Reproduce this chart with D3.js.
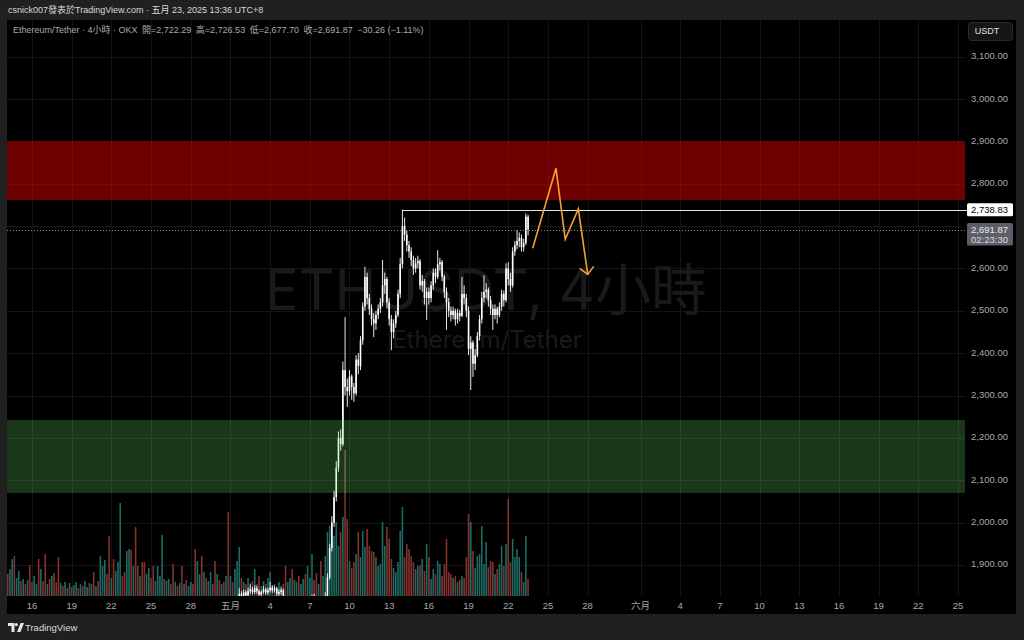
<!DOCTYPE html>
<html><head><meta charset="utf-8">
<script src="https://cdn.jsdelivr.net/npm/d3@7"></script>
<style>
html,body{margin:0;padding:0;background:#202020;}
svg{display:block;}
text{font-family:"Liberation Sans","Noto Sans CJK TC",sans-serif;}
text.wm{font-family:Inter,"Noto Sans CJK TC",sans-serif;}
</style></head><body>
<svg id="c" width="1024" height="640"></svg>
<script>
// ---------- DATA ----------
const startTime = "2025-04-14 00:00";
const barHours = 4;
const firstOpen = 1620;
const closes = [
1632,1625,1638,1645,1628,1634,1640,1630,1636,1620,
1626,1600,1592,1600,1608,1585,1592,1586,1570,1576,
1572,1580,1575,1570,1565,1578,1574,1582,1579,1585,
1582,1588,1594,1590,1596,1592,1598,1603,1596,1600,
1582,1587,1580,1610,1625,1640,1630,1580,1592,1585,
1600,1620,1720,1705,1700,1740,1775,1760,1790,1760,
1750,1765,1752,1735,1748,1760,1750,1738,1746,1758,
1768,1790,1782,1788,1795,1790,1775,1782,1778,1785,
1772,1778,1770,1776,1784,1780,1755,1775,1790,1775,
1790,1782,1788,1800,1795,1780,1792,1786,1792,1785,
1792,1760,1775,1770,1790,1810,1832,1825,1835,1828,
1838,1842,1836,1845,1838,1830,1836,1842,1835,1840,
1846,1840,1844,1832,1836,1840,1820,1805,1810,1815,
1800,1806,1812,1795,1800,1808,1790,1805,1812,1822,
1818,1810,1816,1808,1815,1825,1870,1940,2000,2060,
2130,2200,2185,2360,2320,2310,2345,2320,2305,2385,
2370,2430,2510,2580,2530,2505,2480,2470,2490,2505,
2520,2560,2575,2520,2480,2450,2470,2490,2540,2610,
2700,2680,2655,2640,2620,2600,2612,2618,2560,2570,
2530,2545,2530,2560,2590,2580,2610,2615,2580,2545,
2520,2500,2490,2500,2480,2495,2488,2540,2530,2500,
2410,2425,2375,2395,2440,2480,2530,2545,2550,2525,
2505,2490,2505,2490,2510,2540,2525,2600,2575,2560,
2640,2655,2665,2672,2650,2660,2722.29,2691.87];
const highs = [
1640,1638,1644,1652,1650,1640,1646,1644,1642,1638,
1632,1628,1606,1605,1614,1610,1598,1596,1590,1582,
1580,1586,1584,1578,1576,1582,1580,1586,1584,1589,
1588,1592,1598,1596,1600,1598,1602,1608,1605,1604,
1602,1590,1590,1615,1630,1650,1645,1632,1598,1596,
1606,1626,1730,1728,1712,1748,1782,1790,1810,1795,
1768,1772,1770,1756,1752,1765,1764,1755,1750,1762,
1772,1800,1795,1794,1805,1800,1794,1788,1786,1790,
1792,1782,1780,1780,1790,1788,1784,1780,1796,1800,
1795,1794,1792,1810,1806,1798,1796,1795,1796,1795,
1800,1795,1780,1780,1796,1818,1845,1838,1842,1840,
1846,1856,1848,1852,1850,1842,1840,1850,1846,1846,
1860,1852,1850,1848,1842,1846,1844,1822,1815,1820,
1818,1812,1818,1815,1806,1814,1812,1810,1818,1830,
1832,1825,1822,1820,1822,1835,1880,1950,2015,2075,
2145,2215,2220,2380,2485,2340,2360,2350,2330,2395,
2400,2440,2520,2604,2590,2540,2515,2495,2500,2515,
2530,2620,2590,2580,2530,2490,2480,2500,2550,2625,
2738.83,2720,2690,2665,2650,2630,2625,2630,2622,2585,
2575,2555,2555,2570,2600,2600,2643,2625,2620,2585,
2555,2530,2510,2510,2505,2505,2502,2580,2560,2540,
2510,2440,2430,2410,2450,2490,2545,2584,2565,2555,
2535,2515,2515,2510,2520,2550,2548,2612,2615,2590,
2650,2665,2691,2685,2680,2670,2730,2726.53];
const lows = [
1612,1618,1620,1632,1622,1624,1630,1625,1626,1614,
1615,1594,1586,1588,1596,1578,1580,1580,1562,1566,
1566,1568,1570,1564,1556,1562,1570,1572,1575,1576,
1578,1580,1585,1586,1588,1588,1590,1595,1592,1594,
1575,1578,1574,1578,1606,1620,1624,1565,1574,1578,
1582,1596,1615,1695,1690,1696,1735,1752,1755,1750,
1740,1745,1745,1725,1730,1742,1744,1730,1732,1740,
1752,1762,1776,1778,1784,1784,1768,1770,1772,1774,
1765,1768,1764,1766,1772,1775,1745,1750,1770,1768,
1770,1776,1778,1784,1790,1772,1776,1780,1782,1780,
1782,1752,1755,1764,1766,1786,1806,1818,1820,1822,
1824,1832,1830,1832,1832,1822,1826,1832,1830,1830,
1835,1834,1835,1826,1826,1830,1812,1798,1800,1805,
1790,1796,1802,1785,1790,1796,1782,1786,1800,1808,
1812,1804,1806,1800,1804,1810,1820,1865,1932,1990,
2050,2120,2170,2180,2300,2273,2300,2290,2285,2300,
2350,2360,2420,2500,2515,2490,2465,2438,2455,2480,
2495,2510,2540,2505,2465,2407,2435,2460,2485,2530,
2600,2665,2640,2625,2605,2585,2590,2600,2550,2545,
2515,2478,2515,2520,2550,2565,2575,2595,2570,2530,
2455,2485,2475,2480,2465,2470,2475,2485,2515,2485,
2395,2313,2344,2360,2390,2430,2470,2520,2530,2510,
2490,2455,2480,2470,2485,2500,2510,2520,2560,2545,
2555,2630,2645,2650,2640,2640,2655,2677.70];
const volumes = [
30,22,27,37,40,18,25,15,17,12,
16,31,14,20,12,37,27,15,42,12,
17,20,23,14,39,13,10,14,8,13,
9,11,14,8,12,10,15,9,13,12,
24,10,15,40,30,36,22,60,18,37,
25,34,93,20,24,45,47,46,30,69,
30,20,34,34,22,28,18,30,15,30,
20,61,17,15,17,12,32,14,10,13,
30,12,16,10,14,12,47,35,22,40,
24,18,15,24,12,35,22,16,12,14,
20,84,20,14,27,35,49,18,14,12,
18,10,15,27,12,20,10,15,12,18,
24,10,12,9,14,10,12,30,14,18,
27,16,14,20,12,17,22,30,18,42,
16,23,12,35,20,40,64,70,55,60,
74,50,64,79,146,77,35,28,34,42,
64,39,65,49,67,50,45,44,39,30,
32,74,50,69,57,37,28,24,34,65,
89,39,52,47,40,34,27,30,31,37,
25,52,39,17,27,22,35,32,20,32,
57,24,22,18,20,14,16,20,18,39,
82,74,45,28,40,42,70,32,54,29,
35,34,22,27,32,50,30,52,97,34,
57,39,47,39,24,14,60,17];

const priceTicks = [1900,2000,2100,2200,2300,2400,2500,2600,2700,2800,2900,3000,3100];
const timeTickDates = ["2025-04-16","2025-04-19","2025-04-22","2025-04-25","2025-04-28","2025-05-01","2025-05-04","2025-05-07","2025-05-10","2025-05-13","2025-05-16","2025-05-19","2025-05-22","2025-05-25","2025-05-28","2025-06-01","2025-06-04","2025-06-07","2025-06-10","2025-06-13","2025-06-16","2025-06-19","2025-06-22","2025-06-25"];
const timeTickLabels = ["16","19","22","25","28","五月","4","7","10","13","16","19","22","25","28","六月","4","7","10","13","16","19","22","25"];

const resistanceZone = [2761.5, 2900];
const supportZone = [2070, 2242];
const highLinePrice = 2738.83;
const highLineStart = "2025-05-14 00:00";
const lastPrice = 2691.87;
const countdown = "02:23:30";
const arrowTimes = ["2025-05-23 20:24","2025-05-25 14:40","2025-05-26 07:26","2025-05-27 07:12","2025-05-28 00:14"];
const arrowPrices = [2647.5, 2836.4, 2668.7, 2740.3, 2586];

const headerText = "csnick007發表於TradingView.com · 五月 23, 2025 13:36 UTC+8";
const legendParts = ["Ethereum/Tether · 4小時 · OKX", "開=2,722.29", "高=2,726.53", "低=2,677.70", "收=2,691.87", "−30.26 (−1.11%)"];
const watermark = "ETHUSDT, 4小時";
const watermarkSub = "Ethereum/Tether";
const currencyLabel = "USDT";

// ---------- LAYOUT ----------
const P = {left:7, right:965, top:20, bottom:596};
const panel = {left:7, right:1016, top:20, bottom:614};
const svg = d3.select("#c");
const parseT = d3.timeParse("%Y-%m-%d %H:%M");
const parseD = d3.timeParse("%Y-%m-%d");

const x = d3.scaleTime().domain([parseD("2025-04-16"), parseD("2025-06-25")]).range([32, 958]);
const y = d3.scaleLinear().domain([1900, 3100]).range([564.9, 56.7]);
const yv = d3.scaleLinear().domain([0, 150]).range([P.bottom, P.bottom - 150]);

const t0 = parseT(startTime);
const bars = closes.map((c, i) => ({
  t: new Date(t0.getTime() + i * barHours * 3600e3),
  o: i === 0 ? firstOpen : closes[i - 1],
  h: highs[i], l: lows[i], c, v: volumes[i]
}));
const barStep = x(new Date(t0.getTime() + barHours*3600e3)) - x(t0);
const bodyW = Math.max(1, barStep * 0.72);

// backgrounds
svg.append("rect").attr("width",1024).attr("height",640).attr("fill","#202020");
svg.append("rect").attr("x",panel.left).attr("y",panel.top).attr("width",panel.right-panel.left)
  .attr("height",panel.bottom-panel.top).attr("fill","#000");

svg.append("defs").append("clipPath").attr("id","plot").append("rect")
  .attr("x",P.left).attr("y",P.top).attr("width",P.right-P.left).attr("height",P.bottom-P.top);

// grid
const grid = svg.append("g").attr("clip-path","url(#plot)");
grid.selectAll("line.h").data(priceTicks).join("line")
  .attr("x1",P.left).attr("x2",P.right).attr("y1",d=>Math.round(y(d))+0.5).attr("y2",d=>Math.round(y(d))+0.5)
  .attr("stroke","#141414");
grid.selectAll("line.v").data(timeTickDates).join("line")
  .attr("y1",P.top).attr("y2",P.bottom).attr("x1",d=>Math.round(x(parseD(d)))+0.5).attr("x2",d=>Math.round(x(parseD(d)))+0.5)
  .attr("stroke","#141414");

// watermark
svg.append("text").attr("class","wm").attr("x",486).attr("y",295).attr("text-anchor","middle").attr("dominant-baseline","middle")
  .attr("font-size",56).attr("fill","#1a1a1a").text(watermark);
svg.append("text").attr("class","wm").attr("x",487).attr("y",341).attr("text-anchor","middle").attr("dominant-baseline","middle")
  .attr("font-size",24).attr("fill","#1a1a1a").text(watermarkSub);

const plot = svg.append("g").attr("clip-path","url(#plot)");

// volume
plot.selectAll("rect.vol").data(bars).join("rect")
  .attr("x",d=>x(d.t)-bodyW/2).attr("width",bodyW)
  .attr("y",d=>yv(d.v)).attr("height",d=>yv(0)-yv(d.v))
  .attr("fill",d=>d.c>=d.o ? "#1e6b64" : "#83332f");

// candles
plot.selectAll("rect.wick").data(bars).join("rect")
  .attr("x",d=>x(d.t)-0.5).attr("width",1)
  .attr("y",d=>y(d.h)).attr("height",d=>Math.max(1,y(d.l)-y(d.h)))
  .attr("fill","#e8e8e8");
plot.selectAll("rect.body").data(bars).join("rect")
  .attr("x",d=>x(d.t)-bodyW/2).attr("width",bodyW)
  .attr("y",d=>y(Math.max(d.o,d.c))).attr("height",d=>Math.max(1,Math.abs(y(d.o)-y(d.c))))
  .attr("fill","#ffffff");

// zones (semi-transparent overlays)
plot.append("rect").attr("x",P.left).attr("width",P.right-P.left)
  .attr("y",y(resistanceZone[1])).attr("height",y(resistanceZone[0])-y(resistanceZone[1]))
  .attr("fill","rgba(235,0,0,0.47)");
plot.append("rect").attr("x",P.left).attr("width",P.right-P.left)
  .attr("y",y(supportZone[1])).attr("height",y(supportZone[0])-y(supportZone[1]))
  .attr("fill","rgba(110,230,110,0.24)");

// current price dotted line
plot.append("line").attr("x1",P.left).attr("x2",P.right)
  .attr("y1",Math.round(y(lastPrice))+0.5).attr("y2",Math.round(y(lastPrice))+0.5)
  .attr("stroke","#8a8a8a").attr("stroke-dasharray","1,2");

// high horizontal line
svg.append("line").attr("x1",x(parseT(highLineStart))).attr("x2",967)
  .attr("y1",Math.round(y(highLinePrice))+0.5).attr("y2",Math.round(y(highLinePrice))+0.5)
  .attr("stroke","#e6e6e6").attr("stroke-width",1);

// arrow drawing
const apts = arrowTimes.map((t,i)=>[x(parseT(t)), y(arrowPrices[i])]);
svg.append("path").attr("d",d3.line()(apts)).attr("fill","none").attr("stroke","#f5a032")
  .attr("stroke-width",1.6).attr("stroke-linejoin","miter");
{
  const [tx,ty] = apts[apts.length-1], [px,py] = apts[apts.length-2];
  const ang = Math.atan2(py-ty, px-tx), L = 10, a = Math.PI/4;
  const p1 = [tx+L*Math.cos(ang+a), ty+L*Math.sin(ang+a)];
  const p2 = [tx+L*Math.cos(ang-a), ty+L*Math.sin(ang-a)];
  svg.append("path").attr("d",d3.line()([p1,[tx,ty],p2])).attr("fill","none")
    .attr("stroke","#f5a032").attr("stroke-width",1.6);
}

// price axis labels (skip those hidden under the price boxes)
const fmt = d3.format(",.2f");
const hy = y(highLinePrice), ly = y(lastPrice);
svg.selectAll("text.pt").data(priceTicks.filter(d => Math.abs(y(d)-hy) > 10 && !(y(d) > ly-12 && y(d) < ly+22)))
  .join("text")
  .attr("x",1008).attr("y",d=>y(d)).attr("text-anchor","end").attr("dominant-baseline","middle")
  .attr("font-size",9.5).attr("fill","#a6a9b0").text(d=>fmt(d));

// high label box
svg.append("rect").attr("x",967).attr("y",hy-6.5).attr("width",46).attr("height",13).attr("rx",1.5).attr("fill","#ffffff");
svg.append("text").attr("x",1008).attr("y",hy+0.5).attr("text-anchor","end").attr("dominant-baseline","middle")
  .attr("font-size",9.5).attr("fill","#000").text(fmt(highLinePrice));

// last price box
svg.append("rect").attr("x",967).attr("y",ly-6.5).attr("width",46).attr("height",22.5).attr("rx",1.5).attr("fill","#5c5f68");
svg.append("text").attr("x",1008).attr("y",ly+0.5).attr("text-anchor","end").attr("dominant-baseline","middle")
  .attr("font-size",9.5).attr("fill","#ececec").text(fmt(lastPrice));
svg.append("text").attr("x",1008).attr("y",ly+11).attr("text-anchor","end").attr("dominant-baseline","middle")
  .attr("font-size",9.5).attr("fill","#dcdcdc").text(countdown);

// USDT box
svg.append("rect").attr("x",968.5).attr("y",22.5).attr("width",44).attr("height",18).attr("rx",3)
  .attr("fill","#161616").attr("stroke","#2c2c2c");
svg.append("text").attr("x",987).attr("y",31.5).attr("text-anchor","middle").attr("dominant-baseline","middle")
  .attr("font-size",9).attr("fill","#e0e0e0").text(currencyLabel);

// time axis labels
svg.selectAll("text.tt").data(timeTickDates).join("text")
  .attr("x",d=>x(parseD(d))).attr("y",606).attr("text-anchor","middle").attr("dominant-baseline","middle")
  .attr("font-size",9.5).attr("fill",(d,i)=>timeTickLabels[i].length>2?"#d6d8de":"#a6a9b0")
  .text((d,i)=>timeTickLabels[i]);

// header
svg.append("text").attr("x",8).attr("y",11).attr("dominant-baseline","middle")
  .attr("font-size",9).attr("fill","#d8d8d8").text(headerText);

// legend
const lg = svg.append("text").attr("x",13).attr("y",30.5).attr("dominant-baseline","middle")
  .attr("font-size",9).attr("fill","#a6a9b0");
legendParts.forEach((p,i)=>{ lg.append("tspan").attr("dx", i===0?0:4.5).text(p); });

// footer logo
const fg = svg.append("g");
fg.append("path").attr("d","M8,623 h6.5 v9 h-3 v-6 h-3.5 z").attr("fill","#e6e6e6");
fg.append("circle").attr("cx",16.3).attr("cy",624.6).attr("r",1.6).attr("fill","#e6e6e6");
fg.append("path").attr("d","M17,632 L20.6,623 h3.4 l-3.6,9 z").attr("fill","#e6e6e6");
svg.append("text").attr("x",25).attr("y",628).attr("dominant-baseline","middle")
  .attr("font-size",9.5).attr("fill","#dcdcdc").text("TradingView");
</script>
</body></html>
